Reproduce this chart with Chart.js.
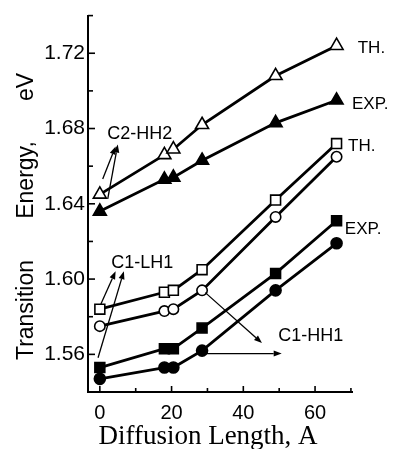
<!DOCTYPE html>
<html>
<head>
<meta charset="utf-8">
<script src="https://cdn.jsdelivr.net/npm/chart.js@4.4.0/dist/chart.umd.min.js"></script>
<style>
html,body{margin:0;padding:0;background:#fff;}
canvas{display:block;}
</style>
</head>
<body>
<canvas id="c" width="395" height="449"></canvas>
<script>
// ---- data ----
const diffusionLength = [0, 18, 20.5, 28.5, 49, 66];
const c2hh2Theory = [1.645, 1.666, 1.669, 1.682, 1.708, 1.724];
const c2hh2Exp    = [1.636, 1.653, 1.654, 1.663, 1.683, 1.695];
const c1lh1Theory = [1.584, 1.593, 1.594, 1.605, 1.642, 1.672];
const c1hh1Theory = [1.575, 1.583, 1.584, 1.594, 1.633, 1.665];
const c1lh1Exp    = [1.553, 1.563, 1.563, 1.574, 1.603, 1.631];
const c1hh1Exp    = [1.547, 1.553, 1.553, 1.562, 1.594, 1.619];

const xTickValues = [0, 20, 40, 60];
const xMinorTicks = [10, 30, 50, 70];
const yTickValues = [1.56, 1.60, 1.64, 1.68, 1.72];
const yMinorTicks = [1.58, 1.62, 1.66, 1.70, 1.74];

// annotation texts (anchored in data units)
const labelTexts = ['C2-HH2', 'C1-LH1', 'C1-HH1', 'TH.', 'EXP.', 'TH.', 'EXP.'];
const labelX     = [11.1, 11.8, 58.8, 71.9, 70.3, 69.2, 68.3];
const labelY     = [1.677, 1.6084, 1.5695, 1.7226, 1.6927, 1.6705, 1.6263];
const labelAlign = ['center', 'center', 'center', 'left', 'left', 'left', 'left'];
const labelSize  = [18, 18, 18, 17, 17, 17, 17];

// arrows: from (x1,y1) to (x2,y2) in data units
const arrowX1 = [0.8, 2.2, 0.3, -0.5, 29.4, 28.9];
const arrowY1 = [1.6532, 1.6426, 1.5868, 1.5582, 1.5928, 1.5604];
const arrowX2 = [4.4, 5.0, 4.4, 6.7, 45.2, 50.7];
const arrowY2 = [1.6705, 1.6715, 1.6042, 1.6042, 1.566, 1.5604];

const pts = ys => diffusionLength.map((x, i) => ({x: x, y: ys[i]}));

function ds(ys, style, filled, r) {
  return {
    data: pts(ys),
    borderColor: '#000',
    borderWidth: 2.8,
    pointStyle: style,
    pointRadius: r,
    pointBorderWidth: 1.6,
    pointBorderColor: '#000',
    pointBackgroundColor: filled ? '#000' : '#fff',
    tension: 0,
    clip: false
  };
}

const SANS = '"Liberation Sans", Arial, sans-serif';
const SERIF = '"Liberation Serif", "Times New Roman", serif';

const annotationPlugin = {
  id: 'annot',
  afterDraw(chart) {
    const ctx = chart.ctx;
    const xs = chart.scales.x, ys = chart.scales.y;
    const left = chart.chartArea.left, bottom = chart.chartArea.bottom;
    ctx.save();
    ctx.strokeStyle = '#000';
    ctx.fillStyle = '#000';
    // inward ticks
    ctx.lineWidth = 1.6;
    const tick = (x1, y1, x2, y2) => { ctx.beginPath(); ctx.moveTo(x1, y1); ctx.lineTo(x2, y2); ctx.stroke(); };
    yTickValues.forEach(v => { const p = ys.getPixelForValue(v); tick(left, p, left + 7, p); });
    yMinorTicks.forEach(v => { const p = ys.getPixelForValue(v); tick(left, p, left + 5, p); });
    xTickValues.forEach(v => { const p = xs.getPixelForValue(v); tick(p, bottom, p, bottom - 6); });
    xMinorTicks.forEach(v => { const p = xs.getPixelForValue(v); tick(p, bottom, p, bottom - 4); });

    // arrows
    ctx.lineWidth = 1.3;
    for (let i = 0; i < arrowX1.length; i++) {
      const x1 = xs.getPixelForValue(arrowX1[i]), y1 = ys.getPixelForValue(arrowY1[i]);
      const x2 = xs.getPixelForValue(arrowX2[i]), y2 = ys.getPixelForValue(arrowY2[i]);
      const a = Math.atan2(y2 - y1, x2 - x1);
      const L = 8, W = 3;
      const bx = x2 - L * Math.cos(a), by = y2 - L * Math.sin(a);
      ctx.beginPath(); ctx.moveTo(x1, y1); ctx.lineTo(bx, by); ctx.stroke();
      ctx.beginPath();
      ctx.moveTo(x2, y2);
      ctx.lineTo(bx + W * Math.sin(a), by - W * Math.cos(a));
      ctx.lineTo(bx - W * Math.sin(a), by + W * Math.cos(a));
      ctx.closePath(); ctx.fill();
    }

    // annotation labels
    ctx.textBaseline = 'middle';
    for (let i = 0; i < labelTexts.length; i++) {
      ctx.font = labelSize[i] + 'px ' + SANS;
      ctx.textAlign = labelAlign[i];
      ctx.fillText(labelTexts[i], xs.getPixelForValue(labelX[i]), ys.getPixelForValue(labelY[i]));
    }

    // y-axis title pieces (rotated)
    ctx.font = '23px ' + SANS;
    ctx.textAlign = 'center';
    ctx.textBaseline = 'alphabetic';
    const vt = (txt, yc) => { ctx.save(); ctx.translate(33, yc); ctx.rotate(-Math.PI / 2); ctx.fillText(txt, 0, 0); ctx.restore(); };
    vt('Transition', 310);
    vt('Energy,', 180);
    vt('eV', 87);

    // x-axis title
    ctx.font = '27px ' + SERIF;
    ctx.textAlign = 'center';
    ctx.fillText('Diffusion Length, A', 208, 444);
    ctx.restore();
  }
};

new Chart(document.getElementById('c'), {
  type: 'line',
  data: {
    datasets: [
      ds(c2hh2Theory, 'triangle', false, 7.5),
      ds(c2hh2Exp, 'triangle', true, 7.5),
      ds(c1lh1Theory, 'rect', false, 7),
      ds(c1hh1Theory, 'circle', false, 5.2),
      ds(c1lh1Exp, 'rect', true, 7),
      ds(c1hh1Exp, 'circle', true, 5.5)
    ]
  },
  options: {
    responsive: false,
    animation: false,
    devicePixelRatio: 1,
    layout: { padding: { left: 0, top: 12, right: 43, bottom: 0 } },
    plugins: { legend: { display: false }, tooltip: { enabled: false } },
    scales: {
      x: {
        type: 'linear',
        min: -3.3, max: 70.3,
        grid: { display: false, drawTicks: false },
        border: { display: true, color: '#000', width: 2 },
        afterBuildTicks: s => { s.ticks = xTickValues.map(v => ({value: v})); },
        afterFit: s => { s.height = 57; },
        ticks: { color: '#000', font: { size: 20, family: SANS }, padding: 9, maxRotation: 0 }
      },
      y: {
        type: 'linear',
        min: 1.54, max: 1.74,
        grid: { display: false, drawTicks: false },
        border: { display: true, color: '#000', width: 2 },
        afterBuildTicks: s => { s.ticks = yTickValues.map(v => ({value: v})); },
        afterFit: s => { s.width = 88; },
        ticks: { color: '#000', font: { size: 21, family: SANS }, padding: 3,
                 callback: v => v.toFixed(2) }
      }
    }
  },
  plugins: [annotationPlugin]
});
</script>
</body>
</html>
